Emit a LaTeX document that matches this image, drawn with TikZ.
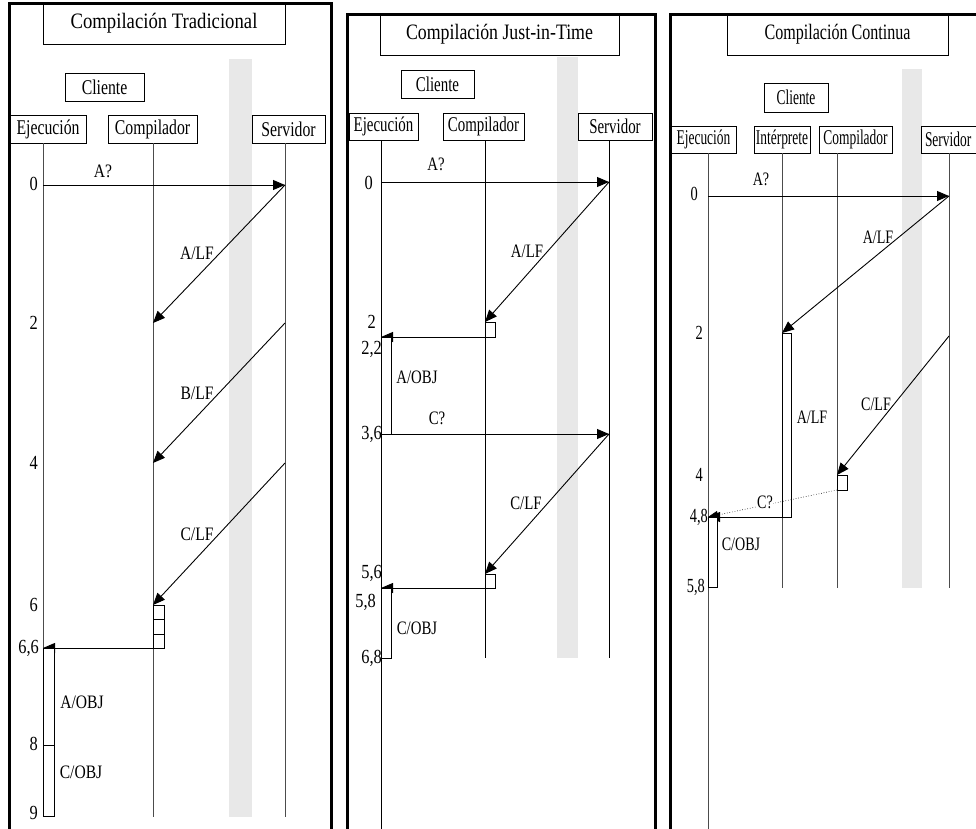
\documentclass[tikz,border=0pt]{standalone}
\usepackage{fontspec}
\setmainfont{Liberation Serif}
% condensed cuts of the serif face: titles, header boxes, message labels, time marks
\newfontfamily\tfa[FakeStretch=0.85]{Liberation Serif}
\newfontfamily\tfb[FakeStretch=0.81]{Liberation Serif}
\newfontfamily\tfc[FakeStretch=0.73]{Liberation Serif}
\newfontfamily\hfa[FakeStretch=0.75]{Liberation Serif}
\newfontfamily\hfb[FakeStretch=0.71]{Liberation Serif}
\newfontfamily\hfc[FakeStretch=0.64]{Liberation Serif}
\newfontfamily\mfa[FakeStretch=0.82]{Liberation Serif}
\newfontfamily\mfb[FakeStretch=0.78]{Liberation Serif}
\newfontfamily\mfc[FakeStretch=0.74]{Liberation Serif}
\newfontfamily\nfa[FakeStretch=0.82]{Liberation Serif}
\newfontfamily\nfb[FakeStretch=0.82]{Liberation Serif}
\newfontfamily\nfc[FakeStretch=0.72]{Liberation Serif}
\usetikzlibrary{arrows.meta}

\begin{document}
\begin{tikzpicture}[x=1pt,y=-1pt,
  frame/.style={line width=3pt},
  hd/.style={draw, line width=1pt, inner sep=0pt, fill=white},
  tita/.style={font=\tfa\fontsize{22pt}{24pt}\selectfont},
  titb/.style={font=\tfb\fontsize{22pt}{24pt}\selectfont},
  titc/.style={font=\tfc\fontsize{22pt}{24pt}\selectfont},
  ha/.style={font=\hfa\fontsize{21pt}{23pt}\selectfont},
  hb/.style={font=\hfb\fontsize{21pt}{23pt}\selectfont},
  hc/.style={font=\hfc\fontsize{21pt}{23pt}\selectfont},
  la/.style={inner sep=0pt, font=\mfa\fontsize{19pt}{21pt}\selectfont},
  lb/.style={inner sep=0pt, font=\mfb\fontsize{19pt}{21pt}\selectfont},
  lc/.style={inner sep=0pt, font=\mfc\fontsize{19pt}{21pt}\selectfont},
  ta/.style={inner sep=0pt, anchor=east, font=\nfa\fontsize{20pt}{22pt}\selectfont},
  tb/.style={inner sep=0pt, anchor=east, font=\nfb\fontsize{20pt}{22pt}\selectfont},
  tc/.style={inner sep=0pt, anchor=east, font=\nfc\fontsize{20pt}{22pt}\selectfont},
  life/.style={draw=black!70, line width=1pt},
  lifeb/.style={draw=black, line width=0.9pt},
  msg/.style={line width=0.9pt, -{Triangle[length=12pt,width=10pt]}},
  bar/.style={draw, line width=0.9pt, fill=white},
  band/.style={fill=black!9}]

\useasboundingbox (0,0) rectangle (976,828);
\fill[white] (0,0) rectangle (976,828);
\clip (0,0) rectangle (976,828);

% ================= Compilación Tradicional =================
\fill[band] (229,59) rectangle (252,817);
\node[hd, tita, minimum width=242pt, minimum height=41pt] (t1) at (164,23.5) {Compilación Tradicional};
\node[hd, ha, minimum width=79pt, minimum height=28pt] (c1) at (104.5,87) {Cliente};
\node[hd, ha, minimum width=76pt, minimum height=28pt] (e1) at (48,129) {Ejecución};
\node[hd, ha, minimum width=89pt, minimum height=28pt] (k1) at (152.5,129) {Compilador};
\node[hd, ha, minimum width=73pt, minimum height=28pt] (s1) at (288.5,129) {Servidor};

\coordinate (e1a) at (43,143);  \coordinate (e1z) at (43,817);
\coordinate (k1a) at (153,143); \coordinate (k1z) at (153,817);
\coordinate (s1a) at (285,143); \coordinate (s1z) at (285,817);
\draw[life] (e1a) -- (e1z);
\draw[life] (k1a) -- (k1z);
\draw[life] (s1a) -- (s1z);

\coordinate (e1m0) at (43,185);  \coordinate (s1m0) at (285,185);
\coordinate (k1m2) at (153,323); \coordinate (s1m2) at (285,323);
\coordinate (k1m4) at (153,463); \coordinate (s1m4) at (285,463);
\coordinate (k1m6) at (153,605);
\coordinate (k1r) at (164,648);  \coordinate (e1m66) at (43,648);

\draw[msg] (e1m0) -- (s1m0);
\draw[msg] (s1m0) -- (k1m2);
\draw[msg] (s1m2) -- (k1m4);
\draw[msg] (s1m4) -- (k1m6);

% compile slots and object bar
\draw[bar] (153,605) rectangle (164,619);
\draw[bar] (153,619) rectangle (164,634);
\draw[bar] (153,634) rectangle (164,648);
\draw[msg] (k1r) -- (e1m66);
\draw[bar] (43,648) rectangle (54,816);
\draw[line width=0.9pt] (43,745) -- (54,745);

\node[la] (l1a) at (103,171) {A?};
\node[la] (l1b) at (197,253) {A/LF};
\node[la] (l1c) at (197,393) {B/LF};
\node[la] (l1d) at (197,534) {C/LF};
\node[la] (l1e) at (82,702) {A/OBJ};
\node[la] (l1f) at (81,772) {C/OBJ};

\node[ta] (n10) at (38,184) {0};
\node[ta] (n12) at (38,323) {2};
\node[ta] (n14) at (38,463) {4};
\node[ta] (n16) at (38,605) {6};
\node[ta] (n166) at (39,648) {6,6};
\node[ta] (n18) at (38,744) {8};
\node[ta] (n19) at (38,813) {9};

\draw[frame] (9,840) -- (9,3) -- (331,3) -- (331,840);

% ================= Compilación Just-in-Time =================
\fill[band] (557,57) rectangle (578,658);
\node[hd, titb, minimum width=239pt, minimum height=41pt] (t2) at (499.5,34.5) {Compilación Just-in-Time};
\node[hd, hb, minimum width=73pt, minimum height=28pt] (c2) at (437.5,84) {Cliente};
\node[hd, hb, minimum width=69pt, minimum height=27pt] (e2) at (383.5,126.5) {Ejecución};
\node[hd, hb, minimum width=81pt, minimum height=27pt] (k2) at (483.5,126.5) {Compilador};
\node[hd, hb, minimum width=74pt, minimum height=27pt] (s2) at (615,126.5) {Servidor};

\coordinate (e2a) at (381,140); \coordinate (e2z) at (381,840);
\coordinate (k2a) at (485,140); \coordinate (k2z) at (485,658);
\coordinate (s2a) at (609,140); \coordinate (s2z) at (609,658);
\draw[lifeb] (e2a) -- (e2z);
\draw[lifeb] (k2a) -- (k2z);
\draw[lifeb] (s2a) -- (s2z);

\coordinate (e2m0) at (381,182);  \coordinate (s2m0) at (609,182);
\coordinate (k2m2) at (485,322);
\coordinate (k2r1) at (495,337);  \coordinate (e2m22) at (381,337);
\coordinate (e2m36) at (381,434); \coordinate (s2m36) at (609,434);
\coordinate (k2m56) at (485,574);
\coordinate (k2r2) at (495,588);  \coordinate (e2m58) at (381,588);

\draw[msg] (e2m0) -- (s2m0);
\draw[msg] (s2m0) -- (k2m2);
\draw[bar] (485,322) rectangle (495,337);
\draw[msg] (k2r1) -- (e2m22);
\draw[bar] (381,337) rectangle (391,434);
\draw[msg] (e2m36) -- (s2m36);
\draw[msg] (s2m36) -- (k2m56);
\draw[bar] (485,574) rectangle (495,588);
\draw[msg] (k2r2) -- (e2m58);
\draw[bar] (381,588) rectangle (391,658);

\node[lb] (l2a) at (436,164) {A?};
\node[lb] (l2b) at (527,251) {A/LF};
\node[lb] (l2c) at (417,377) {A/OBJ};
\node[lb] (l2d) at (437,418) {C?};
\node[lb] (l2e) at (526,503) {C/LF};
\node[lb] (l2f) at (417,628) {C/OBJ};

\node[tb] (n20) at (373,183) {0};
\node[tb] (n22) at (376,322) {2};
\node[tb] (n222) at (382,349) {2,2};
\node[tb] (n236) at (382,434) {3,6};
\node[tb] (n256) at (382,573) {5,6};
\node[tb] (n258) at (376,602) {5,8};
\node[tb] (n268) at (382,658) {6,8};

\draw[frame] (347,840) -- (347,14) -- (655,14) -- (655,840);

% ================= Compilación Continua =================
\fill[band] (902,69) rectangle (922,588);
\node[hd, titc, minimum width=221pt, minimum height=41pt] (t3) at (837.5,34.5) {Compilación Continua};
\node[hd, hc, minimum width=64pt, minimum height=29pt] (c3) at (796,97.5) {Cliente};
\node[hd, hc, minimum width=65pt, minimum height=27pt] (e3) at (703.5,139.5) {Ejecución};
\node[hd, hc, minimum width=56pt, minimum height=27pt] (i3) at (782,139.5) {Intérprete};
\node[hd, hc, minimum width=73pt, minimum height=27pt] (k3) at (855.5,139.5) {Compilador};
\node[hd, hc, minimum width=74pt, minimum height=27pt, text width=70pt, align=left] (s3) at (958,139.5) {\hspace*{2pt}Servidor};

\coordinate (e3a) at (708,153); \coordinate (e3z) at (708,840);
\coordinate (i3a) at (782,153); \coordinate (i3z) at (782,588);
\coordinate (k3a) at (837,153); \coordinate (k3z) at (837,588);
\coordinate (s3a) at (949,153); \coordinate (s3z) at (949,588);
\draw[life] (e3a) -- (e3z);
\draw[life] (i3a) -- (i3z);
\draw[life] (k3a) -- (k3z);
\draw[life] (s3a) -- (s3z);

\coordinate (e3m0) at (708,196);  \coordinate (s3m0) at (949,196);
\coordinate (i3m2) at (782,333);  \coordinate (s3m2) at (949,336);
\coordinate (k3m4) at (837,475);  \coordinate (k3b) at (837,490);
\coordinate (i3r) at (791,517);   \coordinate (e3m48) at (708,517);

\draw[msg] (e3m0) -- (s3m0);
\draw[bar] (782,333) rectangle (791,517);
\draw[msg] (s3m0) -- (i3m2);
\draw[msg] (s3m2) -- (k3m4);
\draw[bar] (837,475) rectangle (847,490);
\draw[line width=0.6pt, dotted, -{Triangle[length=10pt,width=8pt]}] (k3b) -- (e3m48);
\draw[msg] (i3r) -- (e3m48);
\draw[bar] (708,517) rectangle (717,587);

\node[lc] (l3a) at (761,179) {A?};
\node[lc] (l3b) at (878,237) {A/LF};
\node[lc] (l3c) at (876,404) {C/LF};
\node[lc] (l3d) at (812,417) {A/LF};
\node[lc, fill=white, inner sep=0.5pt] (l3e) at (765,502) {C?};
\node[lc] (l3f) at (741,544) {C/OBJ};

\node[tc] (n30) at (698,194) {0};
\node[tc] (n32) at (703,333) {2};
\node[tc] (n34) at (703,475) {4};
\node[tc] (n348) at (708,517) {4,8};
\node[tc] (n358) at (705,587) {5,8};

\draw[frame] (670,840) -- (670,14) -- (990,14);
\end{tikzpicture}
\end{document}
